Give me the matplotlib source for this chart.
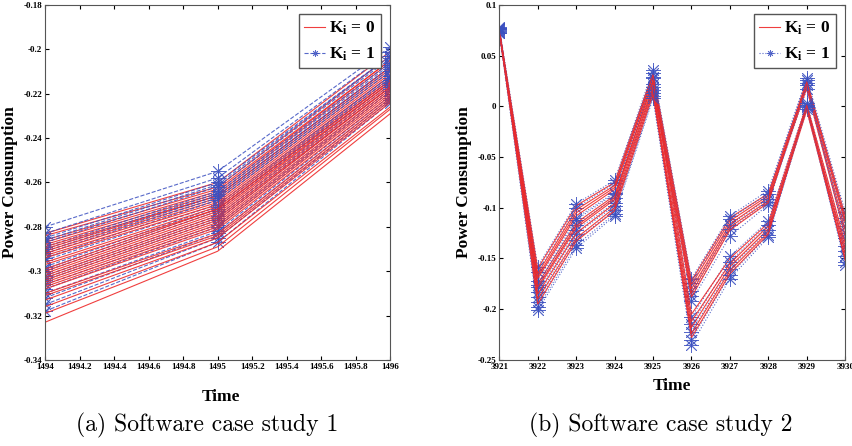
import matplotlib
matplotlib.use("Agg")
import matplotlib.pyplot as plt
import numpy as np

plt.rcParams['font.family'] = 'Liberation Serif'
plt.rcParams['mathtext.fontset'] = 'custom'
plt.rcParams['mathtext.bf'] = 'Liberation Serif:bold'
plt.rcParams['mathtext.rm'] = 'Liberation Serif:bold'

# case study 1: three time points, one row per run
time1 = [1494, 1495, 1496]
k0_case1 = [
    [-0.283, -0.260, -0.201], [-0.284, -0.262, -0.203], [-0.286, -0.263, -0.205],
    [-0.287, -0.264, -0.205], [-0.288, -0.265, -0.206], [-0.289, -0.266, -0.208],
    [-0.290, -0.266, -0.208], [-0.291, -0.267, -0.209], [-0.292, -0.268, -0.210],
    [-0.293, -0.269, -0.211], [-0.294, -0.270, -0.212], [-0.296, -0.271, -0.213],
    [-0.297, -0.272, -0.214], [-0.299, -0.272, -0.214], [-0.300, -0.273, -0.215],
    [-0.301, -0.274, -0.215], [-0.302, -0.275, -0.216], [-0.303, -0.276, -0.217],
    [-0.304, -0.277, -0.217], [-0.305, -0.278, -0.218], [-0.306, -0.279, -0.219],
    [-0.307, -0.280, -0.220], [-0.308, -0.281, -0.221], [-0.310, -0.283, -0.222],
    [-0.311, -0.284, -0.223], [-0.313, -0.285, -0.224], [-0.316, -0.287, -0.226],
    [-0.319, -0.289, -0.227], [-0.323, -0.291, -0.229],
]
k1_case1 = [
    [-0.280, -0.255, -0.199], [-0.283, -0.258, -0.201], [-0.285, -0.260, -0.203],
    [-0.286, -0.261, -0.203], [-0.287, -0.262, -0.204], [-0.289, -0.264, -0.206],
    [-0.290, -0.265, -0.207], [-0.291, -0.266, -0.208], [-0.292, -0.267, -0.209],
    [-0.294, -0.268, -0.210], [-0.295, -0.270, -0.212], [-0.298, -0.271, -0.212],
    [-0.299, -0.272, -0.213], [-0.300, -0.273, -0.214], [-0.302, -0.275, -0.215],
    [-0.303, -0.276, -0.216], [-0.304, -0.277, -0.217], [-0.306, -0.279, -0.218],
    [-0.308, -0.280, -0.219], [-0.310, -0.282, -0.221], [-0.312, -0.283, -0.222],
    [-0.315, -0.285, -0.223], [-0.318, -0.287, -0.224],
]

# case study 2: ten time points
time2 = [3921, 3922, 3923, 3924, 3925, 3926, 3927, 3928, 3929, 3930]
k0_case2 = [
    [0.076, -0.160, -0.098, -0.075, 0.033, -0.172, -0.110, -0.086, 0.025, -0.108],
    [0.074, -0.165, -0.102, -0.078, 0.030, -0.176, -0.113, -0.088, 0.022, -0.115],
    [0.075, -0.170, -0.108, -0.082, 0.027, -0.180, -0.116, -0.090, 0.020, -0.122],
    [0.073, -0.175, -0.115, -0.088, 0.024, -0.184, -0.119, -0.093, 0.018, -0.128],
    [0.076, -0.180, -0.120, -0.092, 0.020, -0.188, -0.122, -0.095, 0.024, -0.112],
    [0.074, -0.168, -0.105, -0.080, 0.031, -0.205, -0.150, -0.115, 0.002, -0.135],
    [0.075, -0.178, -0.118, -0.090, 0.025, -0.212, -0.155, -0.118, -0.002, -0.140],
    [0.073, -0.185, -0.125, -0.096, 0.018, -0.218, -0.158, -0.121, 0.000, -0.145],
    [0.076, -0.190, -0.130, -0.100, 0.015, -0.224, -0.162, -0.124, -0.004, -0.150],
    [0.074, -0.195, -0.133, -0.103, 0.012, -0.228, -0.165, -0.126, 0.001, -0.152],
]
k1_case2 = [
    [0.078, -0.158, -0.096, -0.073, 0.036, -0.170, -0.108, -0.083, 0.028, -0.104],
    [0.076, -0.163, -0.100, -0.076, 0.033, -0.174, -0.111, -0.086, 0.026, -0.110],
    [0.072, -0.172, -0.110, -0.085, 0.028, -0.182, -0.117, -0.091, 0.021, -0.118],
    [0.077, -0.178, -0.117, -0.090, 0.022, -0.187, -0.121, -0.094, 0.017, -0.125],
    [0.075, -0.183, -0.122, -0.095, 0.019, -0.192, -0.128, -0.097, 0.023, -0.130],
    [0.073, -0.176, -0.112, -0.086, 0.029, -0.208, -0.148, -0.113, 0.003, -0.138],
    [0.077, -0.188, -0.126, -0.098, 0.016, -0.215, -0.153, -0.117, -0.001, -0.143],
    [0.074, -0.193, -0.132, -0.102, 0.013, -0.222, -0.160, -0.122, 0.001, -0.148],
    [0.076, -0.198, -0.137, -0.106, 0.010, -0.230, -0.166, -0.127, -0.003, -0.153],
    [0.072, -0.201, -0.140, -0.108, 0.008, -0.235, -0.170, -0.129, 0.000, -0.156],
]

RED = '#ee2a2a'
BLUE = '#3a4fc0'
STAR = (8, 2, 0)  # matlab-like asterisk


def draw_panel(ax, t, red_runs, blue_runs, blue_ls):
    n = max(len(red_runs), len(blue_runs))
    for i in range(n):
        if i < len(blue_runs):
            ax.plot(t, blue_runs[i], color=BLUE, ls=blue_ls, lw=0.8, marker=STAR,
                    markersize=10.5, markeredgewidth=0.6, alpha=0.85,
                    label=r'$\mathbf{K_i}$ = 1' if i == 0 else None)
        if i < len(red_runs):
            ax.plot(t, red_runs[i], color=RED, ls='-', lw=0.8, alpha=0.9,
                    label=r'$\mathbf{K_i}$ = 0' if i == 0 else None)
    ax.tick_params(direction='in', top=True, right=True, labelsize=6.5, length=3, pad=2)
    for lab in ax.get_xticklabels() + ax.get_yticklabels():
        lab.set_fontweight('bold')
    for s in ax.spines.values():
        s.set_color('#555555')
        s.set_linewidth(0.8)
    h, l = ax.get_legend_handles_labels()
    leg = ax.legend(h[::-1], l[::-1], loc='upper right', handlelength=1.2,
                    markerscale=0.45,
                    prop={'family': 'Liberation Serif', 'weight': 'bold', 'size': 12.5},
                    handletextpad=0.25, borderpad=0.3, labelspacing=0.5,
                    fancybox=False, framealpha=1, borderaxespad=0.55)
    leg.get_frame().set_edgecolor('#555555')


fig = plt.figure(figsize=(8.52, 4.46), dpi=100)
ax1 = fig.add_axes([0.053, 0.193, 0.405, 0.796])
ax2 = fig.add_axes([0.586, 0.193, 0.406, 0.796])

ax1.set_xlim(1494, 1496)
ax1.set_ylim(-0.34, -0.18)
ax1.set_xticks(np.arange(1494, 1496.01, 0.2))
ax1.set_xticklabels(['1494', '1494.2', '1494.4', '1494.6', '1494.8', '1495',
                     '1495.2', '1495.4', '1495.6', '1495.8', '1496'])
ax1.set_yticks(np.arange(-0.34, -0.179, 0.02))
ax1.set_yticklabels(['-0.34', '-0.32', '-0.3', '-0.28', '-0.26', '-0.24', '-0.22', '-0.2', '-0.18'])
draw_panel(ax1, time1, k0_case1, k1_case1, '--')

ax2.set_xlim(3921, 3930)
ax2.set_ylim(-0.25, 0.1)
ax2.set_xticks(time2)
ax2.set_yticks([-0.25, -0.2, -0.15, -0.1, -0.05, 0, 0.05, 0.1])
ax2.set_yticklabels(['-0.25', '-0.2', '-0.15', '-0.1', '-0.05', '0', '0.05', '0.1'])
draw_panel(ax2, time2, k0_case2, k1_case2, ':')

ax1.set_xlabel('Time', fontsize=12.5, fontweight='bold')
ax1.set_ylabel('Power Consumption', fontsize=12.5, fontweight='bold')
ax2.set_xlabel('Time', fontsize=12.5, fontweight='bold')
ax2.set_ylabel('Power Consumption', fontsize=12.5, fontweight='bold')
ax1.xaxis.set_label_coords(0.51, -0.082)
ax2.xaxis.set_label_coords(0.5, -0.051)
ax1.yaxis.set_label_coords(-0.078, 0.5)
ax2.yaxis.set_label_coords(-0.078, 0.5)

fig.text(0.243, 0.045, '(a) Software case study 1', family='cmr10', fontsize=17,
         ha='center', va='center')
fig.text(0.776, 0.045, '(b) Software case study 2', family='cmr10', fontsize=17,
         ha='center', va='center')

fig.savefig('out.png', dpi=100)
